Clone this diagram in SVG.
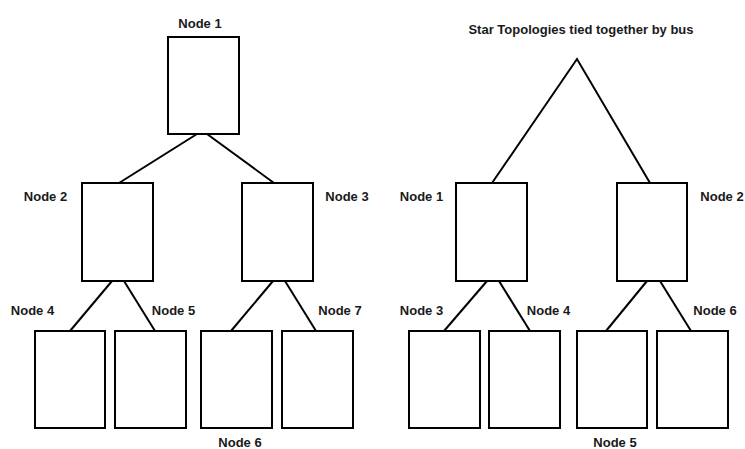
<svg xmlns="http://www.w3.org/2000/svg" width="745" height="449" viewBox="0 0 745 449">
<style>
.box{fill:#fff;stroke:#000;stroke-width:2}
.ln{stroke:#000;stroke-width:2;fill:none}
text{font-family:"Liberation Sans",Arial,sans-serif;font-size:13px;font-weight:bold;fill:#1a1a1a;text-anchor:middle}
</style>
<rect width="745" height="449" fill="#fff"/>
<g id="connectors">
<line class="ln" x1="197" y1="134" x2="119" y2="183"/>
<line class="ln" x1="207" y1="134" x2="274" y2="183"/>
<line class="ln" x1="112" y1="281" x2="70" y2="331"/>
<line class="ln" x1="124" y1="281" x2="155" y2="331"/>
<line class="ln" x1="273" y1="281" x2="231" y2="331"/>
<line class="ln" x1="285" y1="281" x2="316" y2="331"/>
<polyline class="ln" points="492,183 577,59 650,183"/>
<line class="ln" x1="487" y1="281" x2="444" y2="331"/>
<line class="ln" x1="499" y1="281" x2="530" y2="331"/>
<line class="ln" x1="647" y1="281" x2="606" y2="331"/>
<line class="ln" x1="660" y1="281" x2="691" y2="331"/>
</g>
<g id="L-node1"><rect class="box" x="168" y="37" width="71" height="97"/><text x="200" y="28">Node 1</text></g>
<g id="L-node2"><rect class="box" x="82" y="183" width="71" height="98"/><text x="45.5" y="201">Node 2</text></g>
<g id="L-node3"><rect class="box" x="242" y="183" width="71" height="98"/><text x="347" y="201">Node 3</text></g>
<g id="L-node4"><rect class="box" x="35" y="331" width="70" height="97"/><text x="32.5" y="315">Node 4</text></g>
<g id="L-node5"><rect class="box" x="115" y="331" width="71" height="97"/><text x="173.5" y="315">Node 5</text></g>
<g id="L-node6"><rect class="box" x="201" y="331" width="71" height="97"/><text x="240" y="447">Node 6</text></g>
<g id="L-node7"><rect class="box" x="282" y="331" width="71" height="97"/><text x="340" y="315">Node 7</text></g>
<g id="R-title"><text x="581" y="34">Star Topologies tied together by bus</text></g>
<g id="R-node1"><rect class="box" x="456" y="183" width="71" height="98"/><text x="421.5" y="201">Node 1</text></g>
<g id="R-node2"><rect class="box" x="617" y="183" width="70" height="98"/><text x="722" y="201">Node 2</text></g>
<g id="R-node3"><rect class="box" x="409" y="331" width="71" height="97"/><text x="421.5" y="315">Node 3</text></g>
<g id="R-node4"><rect class="box" x="489" y="331" width="71" height="97"/><text x="548.5" y="315">Node 4</text></g>
<g id="R-node5"><rect class="box" x="577" y="331" width="70" height="97"/><text x="615" y="447">Node 5</text></g>
<g id="R-node6"><rect class="box" x="657" y="331" width="71" height="97"/><text x="715" y="315">Node 6</text></g>
</svg>
